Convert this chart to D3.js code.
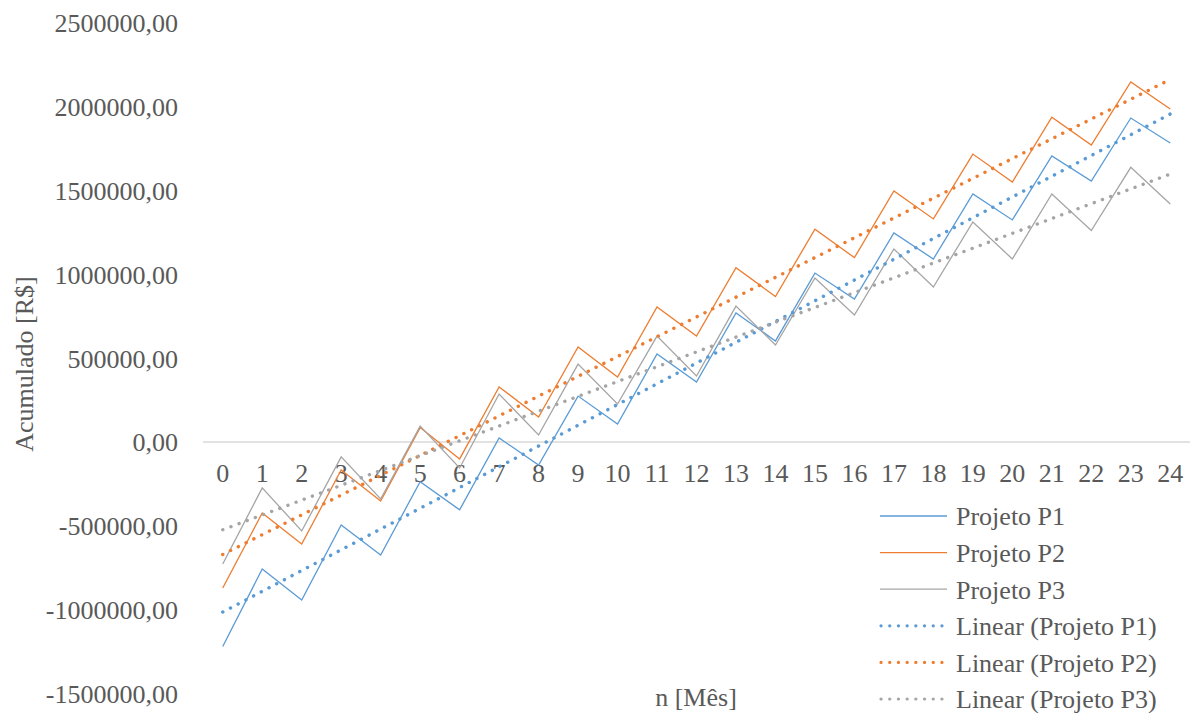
<!DOCTYPE html>
<html>
<head>
<meta charset="utf-8">
<script src="https://cdn.jsdelivr.net/npm/d3@7"></script>
<style>
  html, body { margin: 0; padding: 0; background: #fff; }
  svg text { font-family: 'Liberation Serif', 'Times New Roman', Times, 'DejaVu Serif', serif; }
</style>
</head>
<body>
<svg id="chart" width="1197" height="713"></svg>
<script>
const months = d3.range(0, 25);
const projetoP1 = [-1220000, -758000, -943000, -495000, -674000, -237000, -405000, 24000, -137000, 274000, 107000, 525000, 358000, 770000, 603000, 1008000, 853000, 1247000, 1092000, 1480000, 1325000, 1707000, 1557000, 1933000, 1784000];
const projetoP2 = [-871000, -424000, -609000, -167000, -352000, 86000, -101000, 329000, 149000, 567000, 388000, 806000, 632000, 1040000, 868000, 1270000, 1100000, 1498000, 1331000, 1718000, 1551000, 1938000, 1772000, 2148000, 1987000];
const projetoP3 = [-728000, -274000, -531000, -89000, -340000, 95000, -155000, 286000, 42000, 465000, 227000, 632000, 394000, 811000, 579000, 979000, 758000, 1152000, 925000, 1313000, 1092000, 1480000, 1262000, 1639000, 1420000];
const yTicks = [-1500000, -1000000, -500000, 0, 500000, 1000000, 1500000, 2000000, 2500000];
const seriesNames = ["Projeto P1", "Projeto P2", "Projeto P3"];
const trendNames = ["Linear (Projeto P1)", "Linear (Projeto P2)", "Linear (Projeto P3)"];
const colors = ["#5B9BD5", "#ED7D31", "#A5A5A5"];
const yTitle = "Acumulado [R$]";
const xTitle = "n [Mês]";

const svg = d3.select("#chart");
const textColor = "#595959";
const fontSize = 26;
const fontFam = "'Liberation Serif', 'Times New Roman', Times, 'DejaVu Serif', serif";

const x = d3.scalePoint().domain(months).range([203, 1190]).padding(0.5);
const y = d3.scaleLinear().domain([-1500000, 2500000]).range([693.4, 23]);

const loc = d3.formatLocale({decimal: ",", thousands: "", grouping: [3], currency: ["", ""], minus: "-"});
const fmt = loc.format(".2f");

// Y tick labels
svg.append("g").selectAll("text").data(yTicks).join("text")
  .attr("x", 178).attr("y", d => y(d)).attr("dy", "0.36em")
  .attr("text-anchor", "end").attr("fill", textColor).attr("font-size", fontSize)
  .attr("font-family", fontFam)
  .text(d => fmt(d));

// zero axis line
svg.append("line")
  .attr("x1", 203).attr("x2", 1190).attr("y1", y(0)).attr("y2", y(0))
  .attr("stroke", "#D9D9D9").attr("stroke-width", 1.5);

// X tick labels
svg.append("g").selectAll("text").data(months).join("text")
  .attr("x", d => x(d)).attr("y", 482)
  .attr("text-anchor", "middle").attr("fill", textColor).attr("font-size", fontSize)
  .attr("font-family", fontFam)
  .text(d => d);

const data = [projetoP1, projetoP2, projetoP3];
const line = d3.line().x((d, i) => x(months[i])).y(d => y(d));

data.forEach((s, k) => {
  svg.append("path").datum(s)
    .attr("d", line).attr("fill", "none")
    .attr("stroke", colors[k]).attr("stroke-width", 1.3)
    .attr("stroke-linejoin", "miter");
});

// linear trendlines (least squares from the series)
function regress(vals) {
  const xs = months, n = xs.length;
  const mx = d3.mean(xs), my = d3.mean(vals);
  let sxy = 0, sxx = 0;
  for (let i = 0; i < n; i++) { sxy += (xs[i] - mx) * (vals[i] - my); sxx += (xs[i] - mx) ** 2; }
  const b = sxy / sxx, a = my - b * mx;
  return [a + b * xs[0], a + b * xs[n - 1]];
}
data.forEach((s, k) => {
  const [v0, v1] = regress(s);
  svg.append("line")
    .attr("x1", x(months[0])).attr("y1", y(v0))
    .attr("x2", x(months[months.length - 1])).attr("y2", y(v1))
    .attr("stroke", colors[k]).attr("stroke-width", 3.4)
    .attr("stroke-linecap", "round").attr("stroke-dasharray", "0.1 8.6");
});

// Legend
const legendItems = seriesNames.map((n, k) => ({name: n, color: colors[k], dotted: false}))
  .concat(trendNames.map((n, k) => ({name: n, color: colors[k], dotted: true})));
const lg = svg.append("g");
legendItems.forEach((it, i) => {
  const yy = 516 + i * 36.6;
  lg.append("line").attr("x1", it.dotted ? 881 : 880).attr("x2", 947).attr("y1", yy).attr("y2", yy)
    .attr("stroke", it.color)
    .attr("stroke-width", it.dotted ? 3.2 : 1.3)
    .attr("stroke-linecap", it.dotted ? "round" : "butt")
    .attr("stroke-dasharray", it.dotted ? "0.1 8.6" : null);
  lg.append("text").attr("x", 956).attr("y", yy).attr("dy", "0.36em")
    .attr("fill", textColor).attr("font-size", fontSize).attr("font-family", fontFam).text(it.name);
});

// Axis titles
svg.append("text").attr("x", 696).attr("y", 706).attr("text-anchor", "middle")
  .attr("fill", textColor).attr("font-size", fontSize).attr("font-family", fontFam).text(xTitle);
svg.append("text").attr("transform", "translate(33,364) rotate(-90)")
  .attr("text-anchor", "middle").attr("fill", textColor).attr("font-size", fontSize)
  .attr("font-family", fontFam).text(yTitle);
</script>
</body>
</html>
